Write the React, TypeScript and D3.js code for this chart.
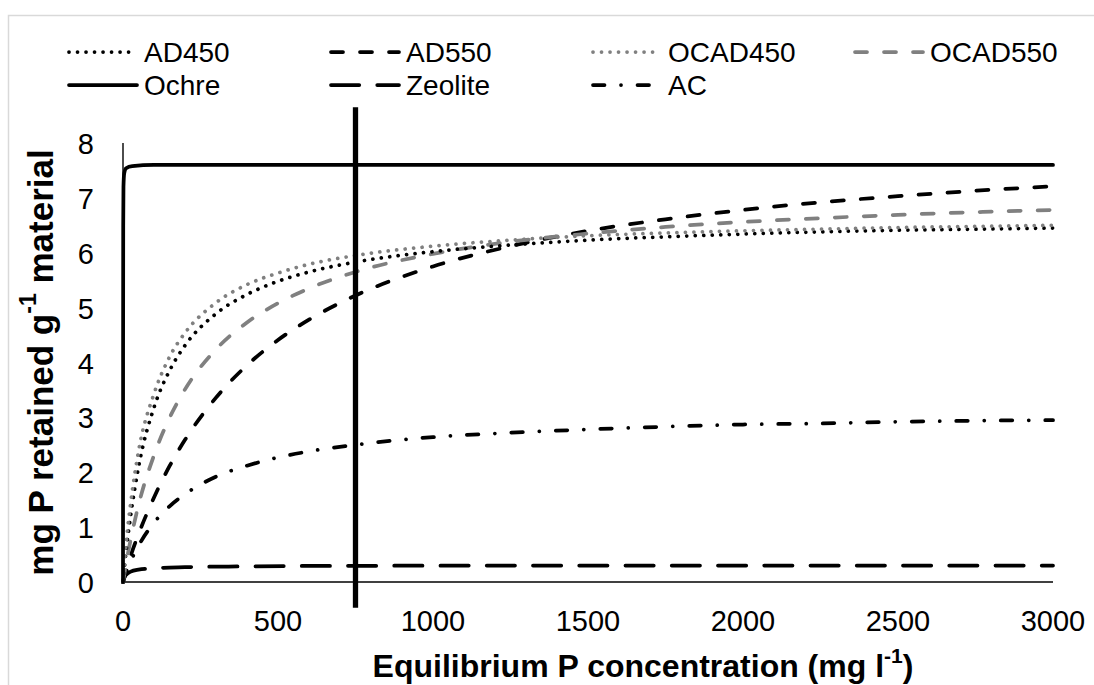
import React from "react";
import * as d3 from "d3";

// ---- data ----
const concentration = [0, 10, 25, 50, 100, 150, 200, 300, 400, 500, 600, 750, 1000, 1250, 1500, 1750, 2000, 2250, 2500, 2750, 3000];
const ad450 = [0, 0.56, 1.22, 2.09, 3.18, 3.85, 4.31, 4.89, 5.24, 5.48, 5.65, 5.83, 6.02, 6.14, 6.23, 6.29, 6.34, 6.38, 6.41, 6.43, 6.45];
const ad550 = [0, 0.19, 0.48, 0.87, 1.54, 2.11, 2.59, 3.36, 3.95, 4.41, 4.78, 5.22, 5.75, 6.12, 6.4, 6.61, 6.78, 6.92, 7.03, 7.13, 7.21];
const ocad450 = [0, 0.7, 1.45, 2.38, 3.43, 4.1, 4.54, 5.09, 5.42, 5.63, 5.79, 5.95, 6.12, 6.23, 6.31, 6.36, 6.4, 6.43, 6.46, 6.48, 6.5];
const ocad550 = [0, 0.34, 0.78, 1.4, 2.31, 2.99, 3.51, 4.24, 4.73, 5.08, 5.35, 5.65, 5.98, 6.2, 6.35, 6.47, 6.56, 6.63, 6.69, 6.74, 6.78];
const acValues = [0, 0.17, 0.38, 0.66, 1.08, 1.38, 1.6, 1.92, 2.12, 2.27, 2.38, 2.5, 2.64, 2.72, 2.78, 2.83, 2.87, 2.89, 2.92, 2.94, 2.95];

const ochreConc = [0, 0.3, 0.7, 1.5, 4, 10, 30, 100, 3000];
const ochreValues = [0, 4, 6.5, 7.2, 7.45, 7.54, 7.58, 7.6, 7.6];

const zeoliteConc = [0, 3, 10, 25, 50, 100, 200, 400, 750, 1500, 3000];
const zeoliteValues = [0, 0.07, 0.13, 0.19, 0.225, 0.25, 0.27, 0.285, 0.295, 0.3, 0.3];

const markerConc = [750, 750];
const markerValues = [8.65, -0.47];

const xTicks = [0, 500, 1000, 1500, 2000, 2500, 3000];
const yTicks = [0, 1, 2, 3, 4, 5, 6, 7, 8];

const legendRow1 = ["AD450", "AD550", "OCAD450", "OCAD550"];
const legendRow2 = ["Ochre", "Zeolite", "AC"];

// ---- styles ----
const FONT = "'Liberation Sans', Arial, sans-serif";
const SW = 3.75;
const styles: Record<string, { color: string; dash: string | null }> = {
  AD450: { color: "#000000", dash: "0.01 8.5" },
  AD550: { color: "#000000", dash: "12 17" },
  OCAD450: { color: "#808080", dash: "0.01 8.5" },
  OCAD550: { color: "#808080", dash: "12 17" },
  Ochre: { color: "#000000", dash: null },
  Zeolite: { color: "#000000", dash: "28.25 18" },
  AC: { color: "#000000", dash: "11.5 16.5 0.01 16.5" },
};

export default function App() {
  const x = d3.scaleLinear().domain([0, 3000]).range([123, 1053]);
  const y = d3.scaleLinear().domain([0, 8]).range([582, 143]);

  const line = d3
    .line<[number, number]>()
    .x((d) => x(d[0]))
    .y((d) => y(d[1]))
    .curve(d3.curveMonotoneX);

  const zip = (xs: number[], ys: number[]) => xs.map((v, i) => [v, ys[i]] as [number, number]);

  const series = [
    { name: "Zeolite", pts: zip(zeoliteConc, zeoliteValues) },
    { name: "AC", pts: zip(concentration, acValues) },
    { name: "AD550", pts: zip(concentration, ad550) },
    { name: "OCAD550", pts: zip(concentration, ocad550) },
    { name: "AD450", pts: zip(concentration, ad450) },
    { name: "OCAD450", pts: zip(concentration, ocad450) },
    { name: "Ochre", pts: zip(ochreConc, ochreValues) },
  ];

  const legendCols = [68, 330, 592, 854];
  const legendRows = [52, 85];

  const legendItem = (name: string, col: number, row: number) => {
    const s = styles[name];
    const x0 = legendCols[col];
    const ly = legendRows[row];
    return (
      <g key={name}>
        <line
          x1={x0 + 1}
          x2={x0 + 69}
          y1={ly}
          y2={ly}
          stroke={s.color}
          strokeWidth={SW}
          strokeLinecap="round"
          strokeDasharray={s.dash ?? undefined}
        />
        <text x={x0 + 76} y={ly} dominantBaseline="central" fontSize={28} fontFamily={FONT} fill="#000">
          {name}
        </text>
      </g>
    );
  };

  return (
    <svg
      width={1094}
      height={685}
      style={{ position: "absolute", left: 0, top: 0, background: "#fff" }}
      xmlns="http://www.w3.org/2000/svg"
    >
      <rect x={0} y={0} width={1094} height={685} fill="#ffffff" />
      <rect x={8.5} y={15.5} width={1200} height={800} fill="none" stroke="#d9d9d9" strokeWidth={1.5} />

      {/* legend */}
      {legendRow1.map((n, i) => legendItem(n, i, 0))}
      {legendRow2.map((n, i) => legendItem(n, i, 1))}

      {/* axes */}
      <line x1={x(0)} x2={x(3000)} y1={y(0)} y2={y(0)} stroke="#000" strokeWidth={1.4} />
      <line x1={x(0)} x2={x(0)} y1={y(0)} y2={y(8)} stroke="#000" strokeWidth={1.4} />

      {xTicks.map((t) => (
        <text key={"x" + t} x={x(t)} y={621} textAnchor="middle" dominantBaseline="central" fontSize={29} fontFamily={FONT}>
          {t}
        </text>
      ))}
      {yTicks.map((t) => (
        <text key={"y" + t} x={94} y={y(t) + 1} textAnchor="end" dominantBaseline="central" fontSize={29} fontFamily={FONT}>
          {t}
        </text>
      ))}

      {/* series */}
      {series.map((s) => {
        const st = styles[s.name];
        return (
          <path
            key={s.name}
            d={line(s.pts) ?? ""}
            fill="none"
            stroke={st.color}
            strokeWidth={SW}
            strokeLinecap="round"
            strokeLinejoin="round"
            strokeDasharray={st.dash ?? undefined}
          />
        );
      })}

      {/* vertical marker */}
      <line
        x1={x(markerConc[0])}
        x2={x(markerConc[1])}
        y1={y(markerValues[0])}
        y2={y(markerValues[1])}
        stroke="#000"
        strokeWidth={5.3}
      />

      {/* axis titles */}
      <text x={643} y={666} textAnchor="middle" dominantBaseline="central" fontSize={32} fontWeight="bold" fontFamily={FONT}>
        Equilibrium P concentration (mg l
        <tspan dy={-11} fontSize={21}>-1</tspan>
        <tspan dy={11}>)</tspan>
      </text>
      <text
        transform={`translate(40, ${(143 + 582) / 2}) rotate(-90)`}
        textAnchor="middle"
        dominantBaseline="central"
        fontSize={35}
        fontWeight="bold"
        fontFamily={FONT}
      >
        mg P retained g
        <tspan dy={-12} fontSize={23}>-1</tspan>
        <tspan dy={12}> material</tspan>
      </text>
    </svg>
  );
}
